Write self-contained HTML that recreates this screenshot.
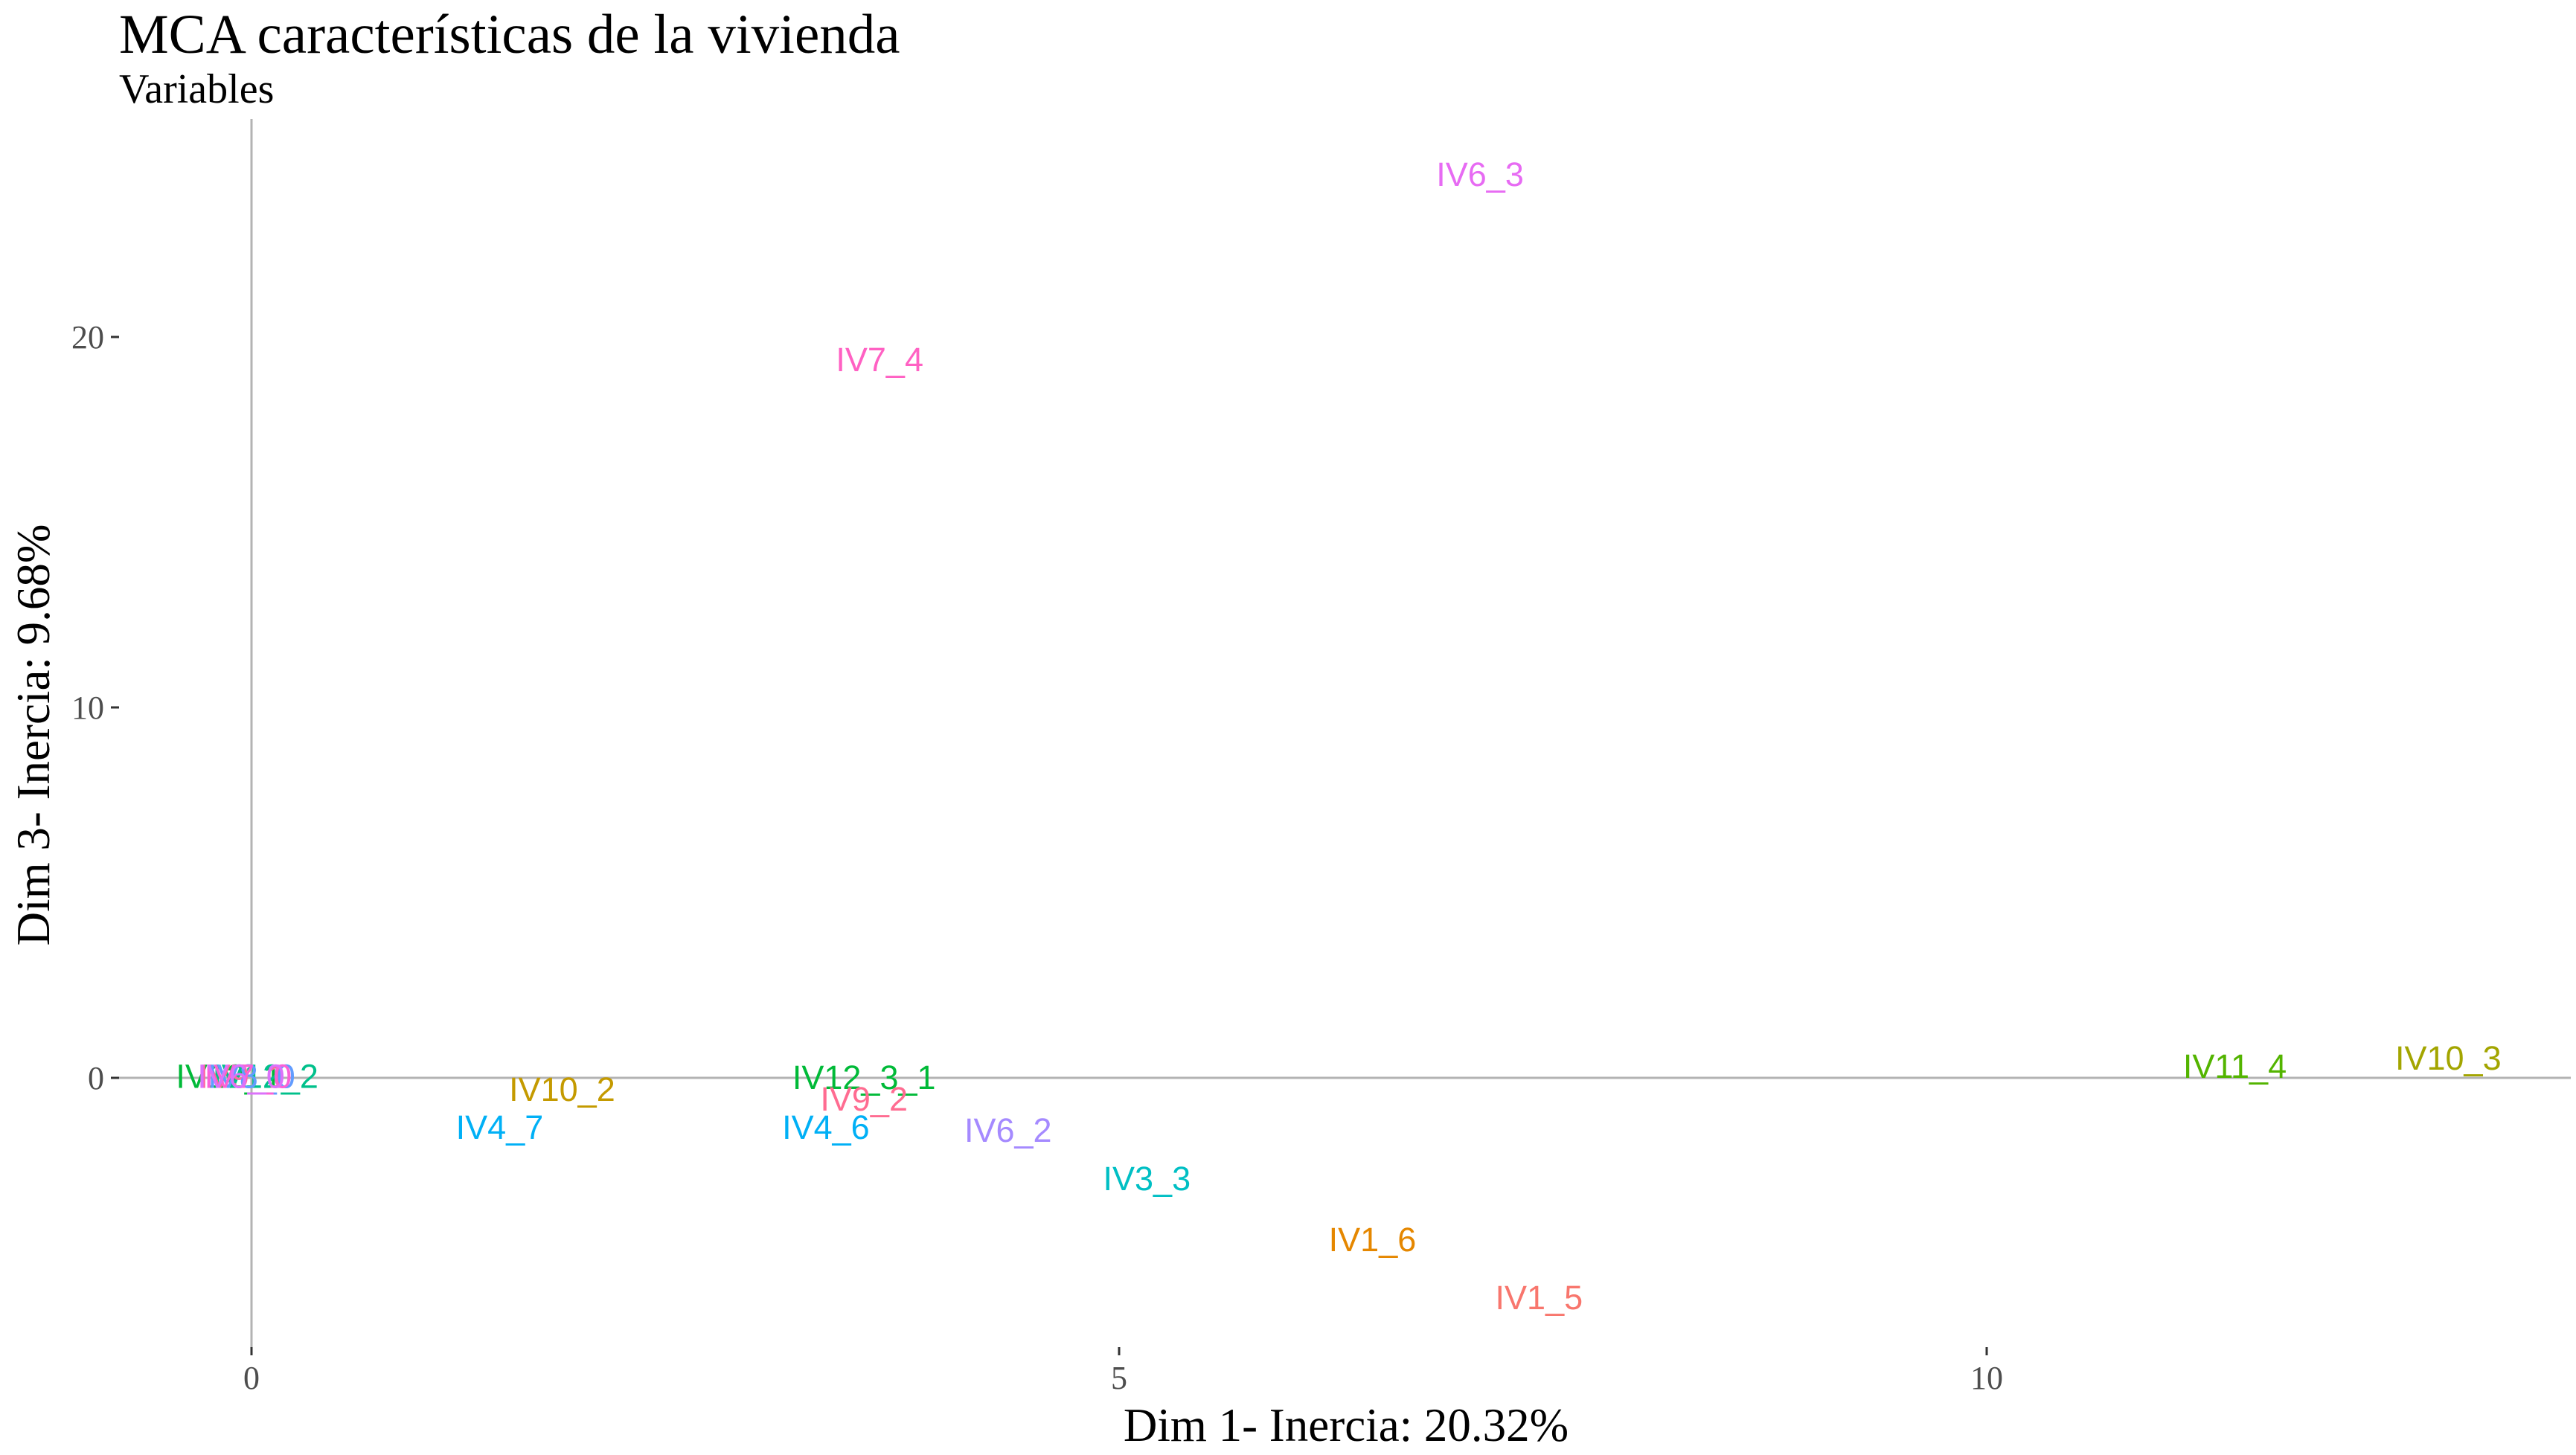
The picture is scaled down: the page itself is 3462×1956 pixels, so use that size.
<!DOCTYPE html>
<html><head><meta charset="utf-8"><style>
html,body{margin:0;padding:0;background:#fff;}
svg{display:block;}
</style></head><body>
<svg id="chart" width="3462" height="1956" xmlns="http://www.w3.org/2000/svg">
<rect width="3462" height="1956" fill="#fff"/>
<text x="160" y="71" font-family="Liberation Serif, serif" font-size="75">MCA características de la vivienda</text>
<text x="160" y="138" font-family="Liberation Serif, serif" font-size="56">Variables</text>
<g id="axes"></g>
<g id="marks"></g>
<text x="1809" y="1937" text-anchor="middle" font-family="Liberation Serif, serif" font-size="63">Dim 1- Inercia: 20.32%</text>
<text transform="translate(66,988) rotate(-90)" text-anchor="middle" font-family="Liberation Serif, serif" font-size="63">Dim 3- Inercia: 9.68%</text>
</svg>
<script>
const labels = ["IV6_3","IV7_4","IV12_3_1","IV9_2","IV10_2","IV4_7","IV4_6","IV6_2","IV3_3","IV1_6","IV1_5","IV11_4","IV10_3","IV12_1","IV12_2","IV9_1","IV8_0","IV7_0","IV6_0"];
const dim1 = [7.08,3.62,3.53,3.53,1.79,1.43,3.31,4.36,5.16,6.46,7.42,11.43,12.66,-0.13,0.08,-0.05,0.0,-0.02,-0.06];
const dim3 = [24.3,19.3,-0.08,-0.66,-0.4,-1.43,-1.43,-1.51,-2.81,-4.46,-6.02,0.22,0.44,-0.05,-0.05,-0.05,-0.05,-0.05,-0.05];
const colors = ["#E76BF3","#FF61C3","#00BA38","#FF6C91","#C49A00","#00B0F6","#00B0F6","#A58AFF","#00BFC4","#E58700","#F8766D","#53B400","#A3A500","#00BA38","#00C08B","#FF67A4","#619CFF","#FB61D7","#DB72FB"];
const xTicks = [0,5,10];
const yTicks = [0,10,20];

const X0=338, XS=233.2, Y0=1449, YS=49.8;
const PL=160, PR=3455, PT=160, PB=1811;
const sx = v => X0 + v*XS;
const sy = v => Y0 - v*YS;
const NS="http://www.w3.org/2000/svg";
const axes=document.getElementById('axes');
const marks=document.getElementById('marks');
function mk(tag, attrs, parent){const e=document.createElementNS(NS,tag);for(const k in attrs)e.setAttribute(k,attrs[k]);parent.appendChild(e);return e;}

let hl=mk('line',{x1:PL,x2:PR,y1:sy(0),y2:sy(0),stroke:'#b3b3b3','stroke-width':3},axes);


let vl=mk('line',{x1:sx(0),x2:sx(0),y1:PT,y2:PB,stroke:'#b3b3b3','stroke-width':3},axes);



xTicks.forEach(t=>{
  let tk=mk('line',{x1:sx(t),x2:sx(t),y1:PB,y2:PB+11,stroke:'#333','stroke-width':3},axes);
  
  
  let tl=mk('text',{x:sx(t),y:PB+56,'text-anchor':'middle','font-family':'Liberation Serif, serif','font-size':44,fill:'#4d4d4d'},axes);
  tl.textContent=t;
  
  
});
yTicks.forEach(t=>{
  let tk=mk('line',{x1:PL-11,x2:PL,y1:sy(t),y2:sy(t),stroke:'#333','stroke-width':3},axes);
  
  
  let tl=mk('text',{x:PL-20,y:sy(t)+15,'text-anchor':'end','font-family':'Liberation Serif, serif','font-size':44,fill:'#4d4d4d'},axes);
  tl.textContent=t;
  
  
});

labels.forEach((l,i)=>{
  let t=mk('text',{x:sx(dim1[i]),y:sy(dim3[i])+11,'text-anchor':'middle','font-family':'Liberation Sans, sans-serif','font-size':45,fill:colors[i]},marks);
  t.textContent=l;
  
  
});
</script>
</body></html>
